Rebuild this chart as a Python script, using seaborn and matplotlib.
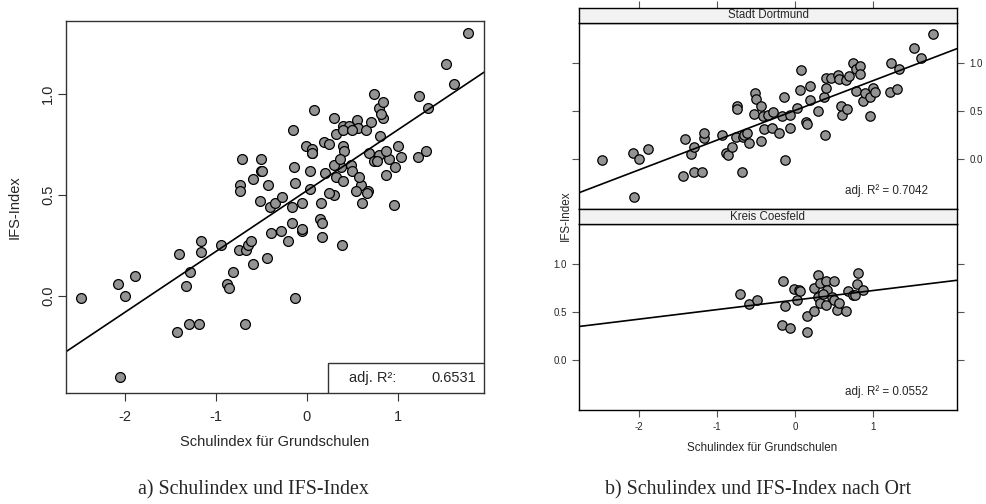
import numpy as np
import pandas as pd
import matplotlib
matplotlib.use("Agg")
import matplotlib.pyplot as plt
import seaborn as sns
from matplotlib.patches import Rectangle

# ---------------- data ----------------
dortmund_x = [-2.48, -2.08, -2.00, -1.89, -2.06, -1.41, -1.43, -1.33, -1.29, -1.30,
              -1.19, -1.17, -1.16, -0.94, -0.88, -0.86, -0.81, -0.74, -0.74, -0.75,
              -0.68, -0.67, -0.65, -0.61, -0.59, -0.51, -0.50, -0.52, -0.43, -0.44,
              -0.41, -0.40, -0.35, -0.29, -0.28, -0.21, -0.16, -0.14, -0.13, -0.06,
              -0.06, 0.03, 0.06, 0.08, 0.14, 0.16, 0.19, 0.20, 0.30, 0.37,
              0.39, 0.40, 0.40, 0.46, 0.55, 0.56, 0.59, 0.60, 0.65, 0.67,
              0.70, 0.74, 0.79, 0.79, 0.83, 0.84, 0.87, 0.90, 0.96, 0.97,
              1.00, 1.03, 1.23, 1.22, 1.31, 1.33, 1.53, 1.62, 1.77]
dortmund_y = [-0.01, 0.06, 0.00, 0.10, -0.40, 0.21, -0.18, 0.05, 0.12, -0.14,
              -0.14, 0.22, 0.27, 0.25, 0.06, 0.04, 0.12, 0.55, 0.52, 0.23,
              -0.14, 0.23, 0.25, 0.27, 0.16, 0.68, 0.62, 0.47, 0.55, 0.19,
              0.44, 0.31, 0.46, 0.32, 0.49, 0.27, 0.44, 0.64, -0.01, 0.46,
              0.32, 0.53, 0.71, 0.92, 0.38, 0.36, 0.76, 0.61, 0.50, 0.64,
              0.25, 0.74, 0.84, 0.84, 0.87, 0.83, 0.55, 0.46, 0.82, 0.52,
              0.86, 1.00, 0.70, 0.93, 0.96, 0.88, 0.60, 0.68, 0.45, 0.64,
              0.74, 0.69, 0.99, 0.69, 0.72, 0.93, 1.15, 1.05, 1.30]

coesfeld_x = [-0.71, -0.59, -0.49, -0.15, -0.13, -0.17, -0.06, -0.01, 0.05, 0.06,
              0.03, 0.15, 0.16, 0.24, 0.24, 0.30, 0.32, 0.30, 0.32, 0.40,
              0.41, 0.40, 0.50, 0.48, 0.50, 0.54, 0.57, 0.66, 0.68, 0.74,
              0.77, 0.80, 0.81, 0.87, 0.36]
coesfeld_y = [0.68, 0.58, 0.62, 0.82, 0.56, 0.36, 0.33, 0.74, 0.73, 0.71,
              0.62, 0.46, 0.29, 0.75, 0.51, 0.88, 0.80, 0.65, 0.59, 0.82,
              0.72, 0.57, 0.82, 0.65, 0.62, 0.52, 0.59, 0.51, 0.71, 0.67,
              0.67, 0.79, 0.90, 0.72, 0.68]

places = ["Stadt Dortmund", "Kreis Coesfeld"]
r2_all = "0.6531"
r2_places = ["adj. R\u00b2 = 0.7042", "adj. R\u00b2 = 0.0552"]
xticks = [-2, -1, 0, 1]
yticks = [0.0, 0.5, 1.0]
ytick_labels = ["0.0", "0.5", "1.0"]
x_label = "Schulindex f\u00fcr Grundschulen"
y_label = "IFS-Index"
captions = ["a) Schulindex und IFS-Index", "b) Schulindex und IFS-Index nach Ort"]

df = pd.DataFrame({
    "x": dortmund_x + coesfeld_x,
    "y": dortmund_y + coesfeld_y,
    "ort": [places[0]] * len(dortmund_x) + [places[1]] * len(coesfeld_x),
})

# ---------------- style ----------------
sns.set_theme(style="white")
plt.rcParams["font.family"] = ["Liberation Sans", "DejaVu Sans"]
W, H = 986, 504
fig = plt.figure(figsize=(W / 100, H / 100), dpi=100)

def fx(px):
    return px / W

def fy(py):
    return 1 - py / H

pt_fill = "#939393"

# ---------------- left panel ----------------
axL = fig.add_axes([fx(66), fy(393), fx(484) - fx(66), fy(21) - fy(393)])
axL.set_xlim(-2.648, 1.945)
axL.set_ylim(-0.48, 1.361)
sns.regplot(data=df, x="x", y="y", ax=axL, ci=None, truncate=False,
            scatter_kws=dict(s=50, color=pt_fill, edgecolor="black", linewidths=0.9, alpha=1),
            line_kws=dict(color="black", lw=1.2))
axL.set_xlim(-2.648, 1.945)
axL.set_ylim(-0.48, 1.361)
axL.set_xticks(xticks)
axL.set_xticklabels([str(t) for t in xticks], fontsize=10.5)
axL.set_yticks(yticks)
axL.set_yticklabels(ytick_labels, fontsize=10.5, rotation=90, va="center")
axL.tick_params(axis="both", direction="out", length=5.8, width=0.8, color="#333333",
                bottom=True, left=True)
axL.tick_params(axis="x", pad=6.5)
axL.tick_params(axis="y", pad=2)
axL.set_xlabel(x_label, fontsize=10.5)
axL.set_ylabel(y_label, fontsize=10.5)
axL.xaxis.set_label_coords(0.5, (393 - 442) / 372)
axL.yaxis.set_label_coords((15 - 66) / 418, 0.5)
axL.xaxis.label.set_va("center")
axL.yaxis.label.set_va("center")
for s in axL.spines.values():
    s.set_color("#333333")
    s.set_linewidth(1.0)
box_x0 = (328 - 66) / 418
box_h = 30 / 372
axL.add_patch(Rectangle((box_x0, 0), 1 - box_x0, box_h, transform=axL.transAxes,
                        facecolor="white", edgecolor="#333333", lw=1.0, zorder=5))
axL.text(box_x0 + 0.05, box_h / 2, "adj. R\u00b2:", transform=axL.transAxes,
         ha="left", va="center", fontsize=10.5, zorder=6)
axL.text(0.98, box_h / 2, r2_all, transform=axL.transAxes,
         ha="right", va="center", fontsize=10.5, zorder=6)

# ---------------- right panels ----------------
panel_tops = [23, 224]
strip_tops = [8, 209]
panel_h = 186
rx0, rx1 = 579, 957
xlim_r = (-2.77, 2.08)
ylim_r = (-0.52, 1.41)
for i, place in enumerate(places):
    top = panel_tops[i]
    ax = fig.add_axes([fx(rx0), fy(top + panel_h), fx(rx1) - fx(rx0), fy(top) - fy(top + panel_h)])
    sub = df[df["ort"] == place]
    ax.set_xlim(*xlim_r)
    ax.set_ylim(*ylim_r)
    sns.regplot(data=sub, x="x", y="y", ax=ax, ci=None, truncate=False,
                scatter_kws=dict(s=46, color=pt_fill, edgecolor="black", linewidths=0.9, alpha=1),
                line_kws=dict(color="black", lw=1.2))
    ax.set_xlim(*xlim_r)
    ax.set_ylim(*ylim_r)
    ax.set_xlabel("")
    ax.set_ylabel("")
    ax.set_xticks(xticks)
    ax.set_yticks(yticks)
    ax.tick_params(axis="both", direction="out", length=5, width=0.8, color="#555555",
                   labelsize=7, pad=4)
    if i == 0:
        ax.tick_params(axis="x", bottom=False, labelbottom=False, top=False, labeltop=False)
        ax.tick_params(axis="y", left=True, labelleft=False, right=True, labelright=True)
        ax.set_yticklabels(ytick_labels)
    else:
        ax.tick_params(axis="x", bottom=True, labelbottom=True, top=False, labeltop=False)
        ax.tick_params(axis="y", left=True, labelleft=True, right=True, labelright=False)
        ax.set_xticklabels([str(t) for t in xticks])
        ax.set_yticklabels(ytick_labels)
    for s in ax.spines.values():
        s.set_color("black")
        s.set_linewidth(1.0)
    ax.text((928 - rx0) / (rx1 - rx0), 0.1, r2_places[i], transform=ax.transAxes,
            ha="right", va="center", fontsize=8.4)
    # strip
    st = strip_tops[i]
    sax = fig.add_axes([fx(rx0), fy(st + 15), fx(rx1) - fx(rx0), fy(st) - fy(st + 15)])
    sax.set_facecolor("#f2f2f2")
    sax.set_xlim(*xlim_r)
    sax.set_yticks([])
    if i == 0:
        sax.set_xticks(xticks)
        sax.tick_params(axis="x", bottom=False, labelbottom=False, top=True, labeltop=False,
                        direction="out", length=5, width=0.8, color="#555555")
    else:
        sax.set_xticks([])
    for s in sax.spines.values():
        s.set_color("black")
        s.set_linewidth(1.0)
    sax.text(0.5, 0.5, place, transform=sax.transAxes, ha="center", va="center", fontsize=8.3)

fig.text(fx(566), fy(216), y_label, rotation=90, ha="center", va="center", fontsize=8.4)
fig.text(fx(762), fy(448), x_label, ha="center", va="center", fontsize=8.4)

# ---------------- captions ----------------
cap_font = ["Liberation Serif", "DejaVu Serif"]
fig.text(fx(253), fy(490), captions[0], ha="center", va="center", fontsize=14.3, family=cap_font)
fig.text(fx(758), fy(490), captions[1], ha="center", va="center", fontsize=14.3, family=cap_font)

fig.savefig("out.png", dpi=100, facecolor="white")
